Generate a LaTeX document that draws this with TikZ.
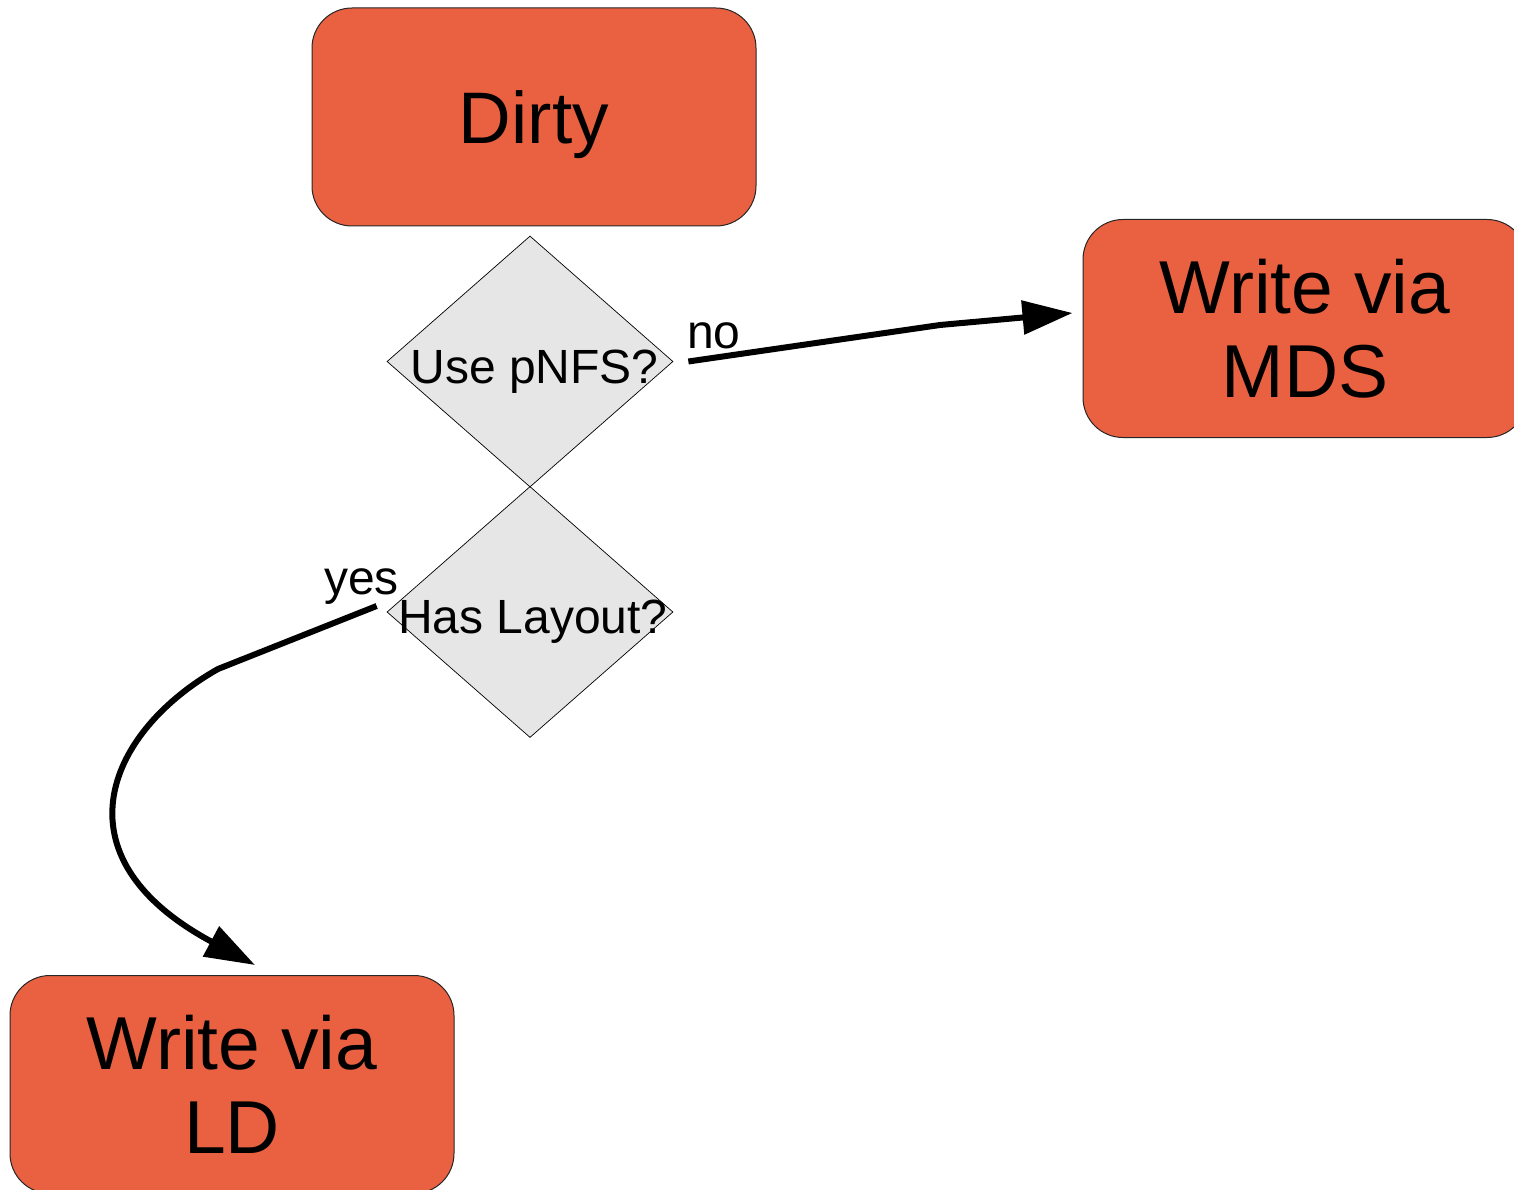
\documentclass[tikz,border=0pt]{standalone}
\usepackage{fontspec}
\setmainfont{Liberation Sans}
\usetikzlibrary{shapes.geometric,arrows.meta,calc}
\definecolor{boxorange}{RGB}{234,97,65}
\definecolor{diagray}{RGB}{230,230,230}
\begin{document}
\begin{tikzpicture}[x=1pt,y=-1pt,
  state/.style={draw=black!85, line width=1pt, fill=boxorange, rounded corners=40pt,
    minimum width=444pt, minimum height=218pt, inner sep=0pt, align=center,
    font=\fontsize{75}{84}\selectfont},
  decision/.style={draw=black, line width=0.7pt, fill=diagray, diamond,
    minimum width=286pt, minimum height=251pt, inner sep=0pt},
  lbl/.style={font=\fontsize{48}{56}\selectfont, inner sep=0pt},
  flow/.style={line width=6pt, -{Triangle[length=50pt,width=33pt]}}
]
\useasboundingbox (0,0) rectangle (1514,1190);

\node[state, text depth=0pt, font=\fontsize{73}{84}\selectfont] (dirty) at (534,117) {Dirty};
\node[state] (mds) at (1305,328.5) {Write via\\MDS};
\node[state] (ld) at (232,1084.5) {Write via\\LD};

\node[decision] (d1) at (530,361.5) {};
\node[decision] (d2) at (530,612) {};
\node[lbl, anchor=base] (t1) at (534.5,383) {Use pNFS?};
\node[lbl, anchor=base] (t2) at (533,633) {Has Layout?};

\draw[flow] ($(d1.east)+(15,0)$) -- (940,325) -- ($(mds.west)+(-10,-15.5)$);
\draw[flow] ($(d2.west)+(-10,-6)$) -- (218,669)
  .. controls (110,730) and (50,855) .. ($(ld.north)+(23,-10)$);

\node[lbl, anchor=base west] (no) at (687,348) {no};
\node[lbl, anchor=base west] (yes) at (324,594) {yes};
\end{tikzpicture}
\end{document}
